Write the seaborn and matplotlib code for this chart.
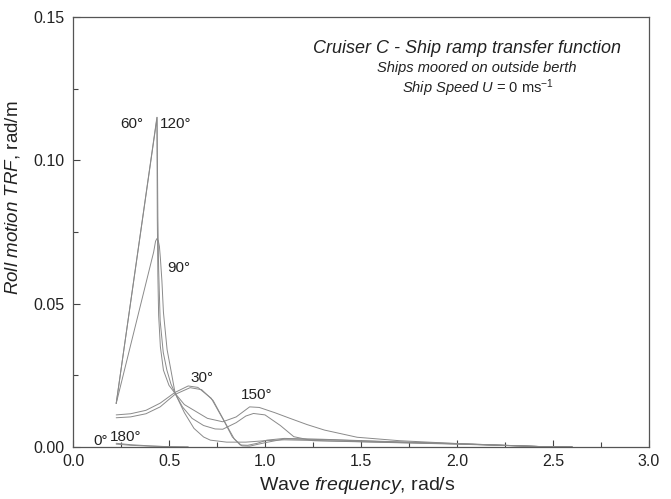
import pandas as pd
import matplotlib
matplotlib.use("Agg")
import matplotlib.pyplot as plt
import seaborn as sns

# Roll motion transfer function per wave heading
f60 = [0.225, 0.437, 0.439, 0.442, 0.446, 0.455, 0.471, 0.50, 0.532, 0.58, 0.63, 0.70,
       0.78, 0.85, 0.92, 0.97, 1.05, 1.13, 1.22, 1.31, 1.48, 1.70, 1.97, 2.20, 2.46, 2.60]
r60 = [0.0152, 0.1150, 0.0800, 0.0600, 0.0460, 0.0350, 0.0268, 0.0215, 0.0187, 0.0148, 0.0128, 0.0100,
       0.0088, 0.0105, 0.0140, 0.0138, 0.0120, 0.0100, 0.0078, 0.0059, 0.0034, 0.0022, 0.0013, 0.0007, 0.0001, 0.0000]

f120 = [0.225, 0.438, 0.442, 0.446, 0.454, 0.470, 0.489, 0.510, 0.532, 0.57, 0.62, 0.68, 0.74,
        0.78, 0.85, 0.90, 0.94, 1.00, 1.08, 1.15, 1.25, 1.50, 2.00, 2.46, 2.60]
r120 = [0.0152, 0.1150, 0.0800, 0.0620, 0.0440, 0.0330, 0.0268, 0.0220, 0.0187, 0.0140, 0.0100, 0.0075, 0.0063,
        0.0062, 0.0085, 0.0108, 0.0117, 0.0112, 0.0075, 0.0036, 0.0022, 0.0018, 0.0010, 0.0001, 0.0000]

f90 = [0.225, 0.420, 0.430, 0.437, 0.444, 0.450, 0.455, 0.463, 0.471, 0.490, 0.510, 0.532, 0.58, 0.63,
       0.68, 0.715, 0.80, 0.90, 1.00, 1.10, 1.30, 1.60, 2.00, 2.46, 2.60]
r90 = [0.0152, 0.0680, 0.0718, 0.0727, 0.0720, 0.0700, 0.0660, 0.0580, 0.0470, 0.0340, 0.0268, 0.0187, 0.0120, 0.0065,
       0.0035, 0.0024, 0.0017, 0.0017, 0.0022, 0.0025, 0.0022, 0.0017, 0.0011, 0.0001, 0.0000]

f30 = [0.225, 0.30, 0.38, 0.454, 0.53, 0.60, 0.65, 0.72, 0.784, 0.83, 0.871, 0.91,
       0.96, 1.01, 1.10, 1.30, 1.60, 2.00, 2.46, 2.60]
r30 = [0.0112, 0.0116, 0.0128, 0.0153, 0.0190, 0.0213, 0.0208, 0.0170, 0.0094, 0.0035, 0.0007, 0.0006,
       0.0013, 0.0024, 0.0030, 0.0027, 0.0020, 0.0012, 0.0001, 0.0000]

f150 = [0.225, 0.30, 0.38, 0.454, 0.53, 0.61, 0.67, 0.73, 0.79, 0.84, 0.88, 0.92,
        1.00, 1.10, 1.30, 1.60, 2.00, 2.46, 2.60]
r150 = [0.0102, 0.0105, 0.0116, 0.0140, 0.0183, 0.0207, 0.0200, 0.0162, 0.0088, 0.0028, 0.0004, 0.0003,
        0.0015, 0.0028, 0.0026, 0.0019, 0.0011, 0.0001, 0.0000]

f0 = [0.225, 0.30, 0.40, 0.50, 0.60]
r0 = [0.0013, 0.0008, 0.0004, 0.0001, 0.0000]
f180 = [0.225, 0.30, 0.40, 0.50, 0.60]
r180 = [0.0010, 0.0006, 0.0003, 0.0001, 0.0000]

headings = ['0°', '30°', '60°', '90°', '120°', '150°', '180°']
freqs = [f0, f30, f60, f90, f120, f150, f180]
trfs = [r0, r30, r60, r90, r120, r150, r180]

rows = []
for h, f, r in zip(headings, freqs, trfs):
    for fi, ri in zip(f, r):
        rows.append({'heading': h, 'freq': fi, 'trf': ri})
df = pd.DataFrame(rows)

sns.set_style('ticks')
plt.rcParams['font.family'] = ['Liberation Sans', 'DejaVu Sans']
plt.rcParams['mathtext.fontset'] = 'custom'
plt.rcParams['mathtext.rm'] = 'Liberation Sans'
plt.rcParams['mathtext.it'] = 'Liberation Sans:italic'
plt.rcParams['mathtext.bf'] = 'Liberation Sans:bold'

fig = plt.figure(figsize=(6.71, 4.99), dpi=100)
ax = fig.add_axes([0.1088, 0.1042, 0.8584, 0.8617])

sns.lineplot(data=df, x='freq', y='trf', hue='heading', hue_order=headings,
             palette=['#8a8a8a'] * len(headings), estimator=None, legend=False,
             linewidth=0.7, ax=ax)

ax.set_xlim(0, 3.0)
ax.set_ylim(0, 0.15)
ax.set_xticks([0, 0.5, 1.0, 1.5, 2.0, 2.5, 3.0])
ax.set_xticks([0.25, 0.75, 1.25, 1.75, 2.25, 2.75], minor=True)
ax.set_yticks([0, 0.05, 0.10, 0.15])
ax.set_yticks([0.025, 0.075, 0.125], minor=True)
ax.set_xticklabels(['0.0', '0.5', '1.0', '1.5', '2.0', '2.5', '3.0'])
ax.set_yticklabels(['0.00', '0.05', '0.10', '0.15'])
ax.tick_params(axis='both', which='major', direction='in', length=5, width=0.8,
               color='#444444', labelsize=11.5, labelcolor='#222222')
ax.tick_params(axis='both', which='minor', direction='in', length=3.5, width=0.8, color='#444444')
ax.tick_params(axis='x', which='major', pad=5)
ax.tick_params(axis='y', which='major', pad=6)
for s in ax.spines.values():
    s.set_color('#555555')
    s.set_linewidth(0.9)

ax.set_xlabel(r'Wave $\it{frequency}$, rad/s', fontsize=14, color='#222222')
ax.set_ylabel(r'$\it{Roll\ motion\ TRF}$, rad/m', fontsize=13.5, color='#222222')
ax.xaxis.set_label_coords(0.493, -0.066)
ax.yaxis.set_label_coords(-0.088, 0.58)

# heading labels
lab = dict(fontsize=11, color='#222222', va='center')
ax.text(0.308, 0.1127, '60°', ha='center', **lab)
ax.text(0.454, 0.1126, '120°', ha='left', **lab)
ax.text(0.553, 0.0623, '90°', ha='center', **lab)
ax.text(0.670, 0.0242, '30°', ha='center', **lab)
ax.text(0.958, 0.0180, '150°', ha='center', **lab)
ax.text(0.146, 0.0022, '0°', ha='center', **lab)
ax.text(0.274, 0.0035, '180°', ha='center', **lab)

# title block
fig.text(0.6955, 0.8932, 'Cruiser C - Ship ramp transfer function', style='italic',
         fontsize=13, ha='center', va='baseline', color='#222222')
fig.text(0.7104, 0.8563, 'Ships moored on outside berth', style='italic',
         fontsize=10.5, ha='center', va='baseline', color='#222222')
fig.text(0.7116, 0.8142, r'$\it{Ship\ Speed\ U}$ = 0 ms$^{-1}$',
         fontsize=10.5, ha='center', va='baseline', color='#222222')

fig.savefig('out.png', dpi=100)
